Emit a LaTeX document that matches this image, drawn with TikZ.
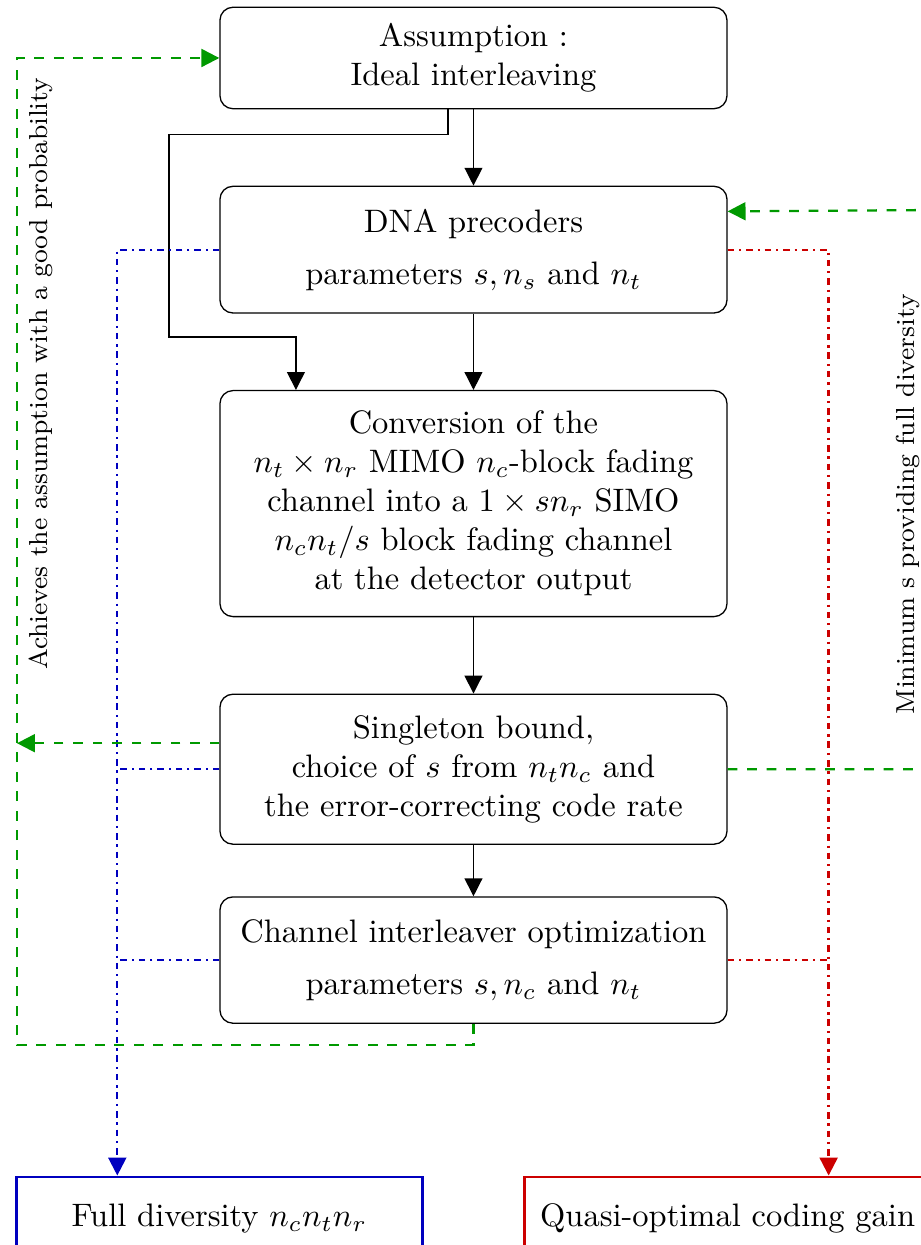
\documentclass[tikz,border=0pt]{standalone}
\usepackage{tikz}
\usetikzlibrary{arrows.meta,positioning}

\colorlet{loopgreen}{green!60!black}
\colorlet{divblue}{blue!75!black}
\colorlet{gainred}{red!80!black}

\tikzset{
  block/.style={draw, rounded corners, align=center, minimum width=5.483cm},
  result/.style={draw, thick, align=center, minimum width=4.391cm, minimum height=0.9cm},
  feedback/.style={loopgreen, line width=0.7pt, dashed},
  dotline/.style={line width=0.7pt, dash pattern=on 2pt off 1.5pt on \the\pgflinewidth off 1.5pt},
  divlink/.style={divblue, dotline},
  gainlink/.style={gainred, dotline}
}

\begin{document}
\begin{tikzpicture}[>={Triangle[length=5.5pt,width=5.5pt]}]
	\useasboundingbox (0,0) rectangle (9.949,-13.463);
	
	% Draw main blocks
	\node[block, minimum height=1.097cm] (assume) at (5.120,-0.627) {Assumption :\\ Ideal interleaving};
	\node[block, minimum height=1.370cm, below=0.825cm of assume] (dna) {DNA precoders\\[4pt] parameters $s,n_s$ and $n_t$};
	\node[block, minimum height=2.444cm, below=0.825cm of dna] (conv) {Conversion of the\\ $n_t\times n_r$ MIMO $n_c$-block fading\\ channel into a $1\times sn_r$ SIMO\\ $n_cn_t/s$ block fading channel\\ at the detector output};
	\node[block, minimum height=1.622cm, below=0.825cm of conv] (single) {Singleton bound,\\ choice of $s$ from $n_tn_c$ and\\ the error-correcting code rate};
	\node[block, minimum height=1.366cm, below=0.556cm of single] (inter) {Channel interleaver optimization\\[4pt] parameters $s,n_c$ and $n_t$};
	
	% Draw result blocks
	\node[result, draw=divblue, below=1.640cm of inter.south west] (fulldiv) {Full diversity $n_cn_tn_r$};
	\node[result, draw=gainred, below=1.640cm of inter.south east] (gain) {Quasi-optimal coding gain};
	
	% Draw main flow
	\draw[->] (assume) -- (dna);
	\draw[->] (dna) -- (conv);
	\draw[->] (conv) -- (single);
	\draw[->] (single) -- (inter);
	\coordinate (bypass) at (1.828,-3.644);
	\draw[->] ([xshift=-0.276cm]assume.south) -- ++(0,-0.274) -| (bypass) -| ([xshift=-1.920cm]conv.north);
	
	% Draw diversity links
	\coordinate (divx) at ([xshift=-1.103cm]fulldiv.north);
	\draw[divlink, ->] (dna.west) -| (divx);
	\draw[divlink] (single.west) -- (single.west -| divx);
	\draw[divlink] (inter.west) -- (inter.west -| divx);
	
	% Draw coding gain links
	\coordinate (gainx) at ([xshift=1.092cm]gain.north);
	\draw[gainlink, ->] (dna.east) -| (gainx);
	\draw[gainlink] (inter.east) -- (inter.east -| gainx);
	
	% Draw feedback loops
	\coordinate (loopl) at (0.184,-11.301);
	\draw[feedback, ->] (inter.south) |- (loopl) |- (assume.west) node[pos=0.34, sloped, below, black, font=\footnotesize] {Achieves the assumption with a good probability};
	\draw[feedback, ->] ([yshift=0.281cm]single.west) -- ([yshift=0.281cm]single.west -| loopl);
	\coordinate (loopr) at (10.08,-2.271);
	\draw[feedback, ->] (single.east) -| (loopr) node[pos=0.737, sloped, above, black, font=\footnotesize] {Minimum s providing full diversity} -- ([yshift=0.414cm]dna.east);
\end{tikzpicture}
\end{document}
